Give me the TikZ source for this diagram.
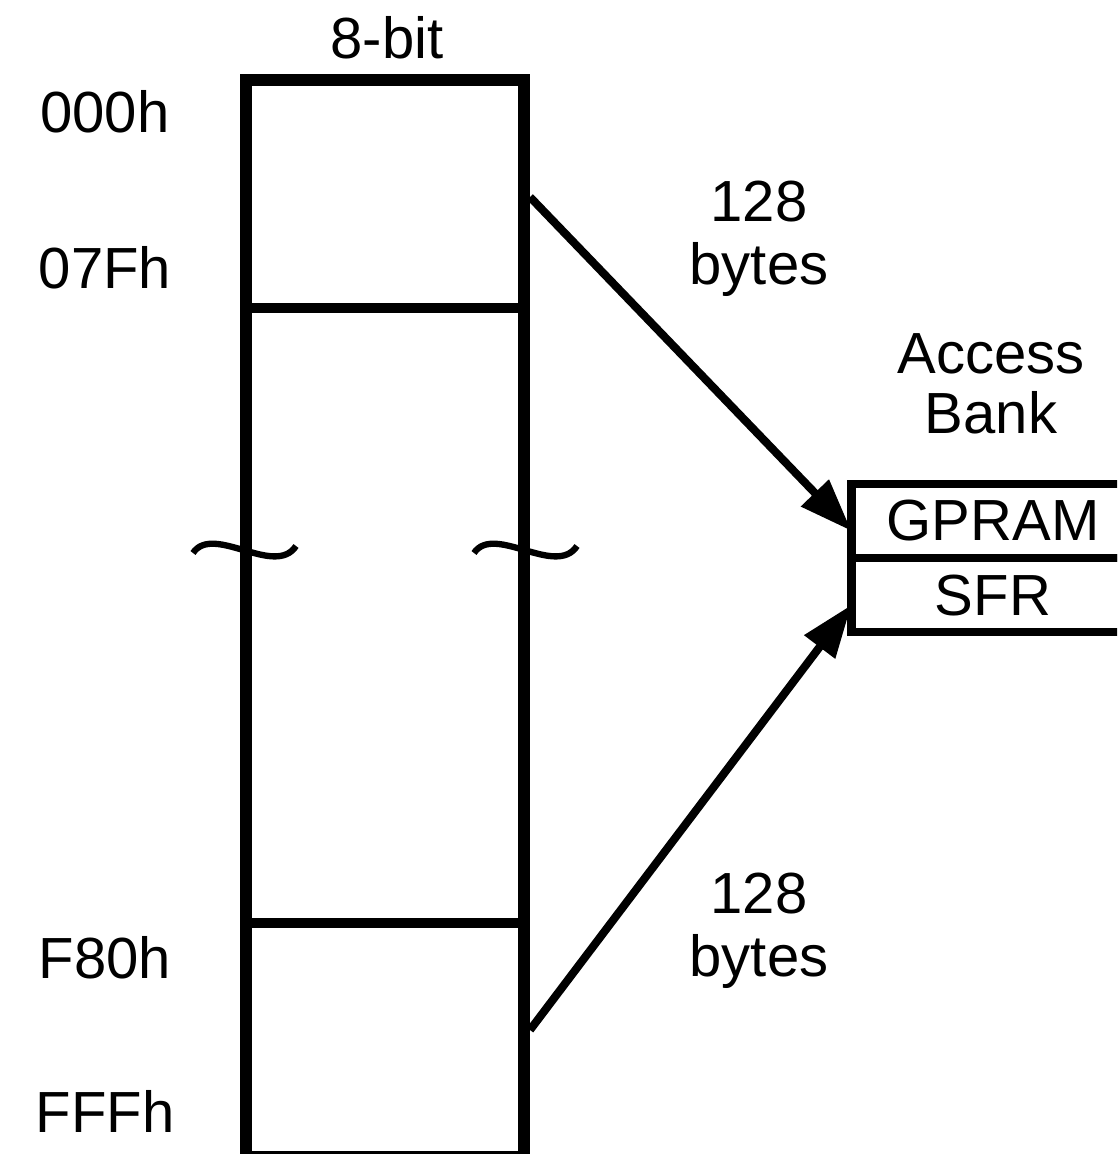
\documentclass[tikz,border=0pt]{standalone}
\usepackage{fontspec}
\setmainfont{Liberation Sans}
\usetikzlibrary{arrows.meta,positioning}
\begin{document}
\begin{tikzpicture}[x=0.01cm,y=-0.01cm,font=\fontsize{16.5}{18}\selectfont]
        \tikzstyle{wall}=[line width=3.4pt]
        \tikzstyle{split}=[line width=3pt]
        \tikzstyle{lbl}=[inner sep=0pt,anchor=base]
        \tikzstyle{pair}=[inner sep=0pt,anchor=north,align=center]
        \tikzstyle{bankcell}=[draw,line width=2.4pt,rectangle,outer sep=0pt,inner sep=0pt,minimum width=2.83cm,minimum height=0.74cm]
        \tikzstyle{arr}=[line width=2.3pt,-{Triangle[length=15pt,width=10.5pt]}]
        \tikzstyle{brk}=[line width=1.8pt]
        \path[use as bounding box,clip] (0,0) rectangle (1117,1154);
        % data memory column
        \draw[wall] (246,80) rectangle (524,1157);
        \draw[split] (246,308) -- (524,308);
        \draw[split] (246,923) -- (524,923);
        \foreach \dx in {0,281}
          \draw[brk] (193+\dx,553) .. controls (213+\dx,523) and (275+\dx,578) .. (296+\dx,546);
        \coordinate (lowtop) at (530,197);
        \coordinate (hightop) at (530,1030);
        % labels
        \node [lbl] (width) at (387,58) {8-bit};
        \node [lbl] (a000) at (105,132) {000h};
        \node [lbl] (a07f) at (105,288) {07Fh};
        \node [lbl] (af80) at (105,978) {F80h};
        \node [lbl] (afff) at (105,1132) {FFFh};
        \node [pair] (lowsize) at (759,180) {128\\bytes};
        \node [pair] (highsize) at (759,872) {128\\bytes};
        \node [pair] (bankname) at (991,333) {Access\\[-1.1pt]Bank};
        % access bank
        \node [bankcell] (gpram) at (993,521) {GPRAM};
        \node [bankcell,below=0pt of gpram] (sfr) {SFR};
        \draw[arr] (lowtop) -- (gpram.184);
        \draw[arr] (hightop) -- (sfr.184);
\end{tikzpicture}
\end{document}
